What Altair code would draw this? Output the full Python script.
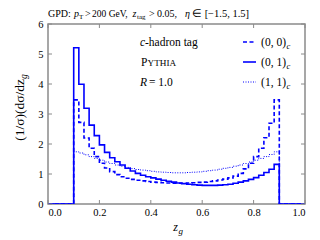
import altair as alt
import pandas as pd

# ---- data -------------------------------------------------------------
bin_start = 0.10
bin_width = 0.02
n_bins = 40

vals_00 = [3.47, 2.72, 2.20, 1.86, 1.58, 1.36, 1.20, 1.08, 0.98, 0.91,
           0.86, 0.82, 0.79, 0.77, 0.75, 0.73, 0.72, 0.71, 0.70, 0.69,
           0.69, 0.69, 0.70, 0.71, 0.72, 0.73, 0.75, 0.77, 0.80, 0.83,
           0.87, 0.93, 1.02, 1.17, 1.36, 1.58, 1.86, 2.21, 2.69, 3.47]
vals_01 = [5.21, 3.99, 3.19, 2.63, 2.28, 1.97, 1.72, 1.54, 1.41, 1.30,
           1.19, 1.10, 1.02, 0.96, 0.91, 0.87, 0.83, 0.79, 0.76, 0.73,
           0.70, 0.68, 0.66, 0.64, 0.63, 0.62, 0.62, 0.62, 0.63, 0.64,
           0.66, 0.69, 0.73, 0.77, 0.82, 0.88, 0.96, 1.05, 1.16, 1.32]
vals_11 = [1.74, 1.70, 1.64, 1.58, 1.52, 1.46, 1.40, 1.35, 1.30, 1.26,
           1.22, 1.18, 1.15, 1.13, 1.11, 1.09, 1.07, 1.06, 1.05, 1.04,
           1.04, 1.04, 1.05, 1.06, 1.07, 1.09, 1.11, 1.13, 1.16, 1.19,
           1.22, 1.26, 1.30, 1.35, 1.40, 1.46, 1.52, 1.58, 1.65, 1.74]

x_ticks = [0.0, 0.2, 0.4, 0.6, 0.8, 1.0]
y_ticks = [0, 1, 2, 3, 4, 5, 6]

W, H = 257, 180
FONT = "Liberation Serif"
BLUE = "#0000ff"
FRAME = "#8a8a8a"


def step_frame(vals):
    edges = [0.0] + [round(bin_start + bin_width * i, 3) for i in range(n_bins)] + [0.9, 1.0]
    yv = [0.0] + list(vals) + [0.0, 0.0]
    return pd.DataFrame({"x": edges, "y": yv})


xs = alt.Scale(domain=[0, 1], nice=False)
ys = alt.Scale(domain=[0, 6], nice=False)
XAX = alt.Axis(values=x_ticks, format=".1f", title=None, ticks=False, domain=False,
               grid=False, labelPadding=3)
YAX = alt.Axis(values=y_ticks, format="d", title=None, ticks=False, domain=False,
               grid=False, labelPadding=5)


def X():
    return alt.X("x:Q", scale=xs, axis=XAX)


def Y():
    return alt.Y("y:Q", scale=ys, axis=YAX)


def hist(vals, dash, width):
    mk = dict(interpolate="step-after", color=BLUE, strokeWidth=width, clip=True)
    if dash:
        mk["strokeDash"] = dash
    return alt.Chart(step_frame(vals)).mark_line(**mk).encode(x=X(), y=Y())


def txt(text, x, y, size=11, align="left", style="normal", angle=0, dy=0, color="black"):
    return alt.Chart(pd.DataFrame({"t": [text]})).mark_text(
        align=align, baseline="alphabetic", font=FONT, fontSize=size,
        fontStyle=style, angle=angle, dy=dy, color=color,
    ).encode(x=alt.value(x), y=alt.value(y), text="t:N")


def seg(x1, x2, y, dash, width):
    mk = dict(color=BLUE, strokeWidth=width)
    if dash:
        mk["strokeDash"] = dash
    return alt.Chart(pd.DataFrame({"a": [0]})).mark_rule(**mk).encode(
        x=alt.value(x1), x2=alt.value(x2), y=alt.value(y))


xt = pd.DataFrame({"x": x_ticks})
yt = pd.DataFrame({"y": y_ticks})
tick_layers = [
    alt.Chart(yt).mark_rule(color=FRAME, strokeWidth=1).encode(
        y=Y(), x=alt.value(0), x2=alt.value(4)),
    alt.Chart(yt).mark_rule(color=FRAME, strokeWidth=1).encode(
        y=Y(), x=alt.value(W - 4), x2=alt.value(W)),
    alt.Chart(xt).mark_rule(color=FRAME, strokeWidth=1).encode(
        x=X(), y=alt.value(0), y2=alt.value(4)),
    alt.Chart(xt).mark_rule(color=FRAME, strokeWidth=1).encode(
        x=X(), y=alt.value(H - 4), y2=alt.value(H)),
]

DASH = [4, 2.5]
DOT = [1, 1.5]

layers = [
    hist(vals_01, None, 1.6),
    hist(vals_00, DASH, 1.6),
    hist(vals_11, DOT, 1.0),
] + tick_layers + [
    # title
    txt("GPD:", 0, -7, 10),
    txt("p", 26, -7, 10, style="italic"),
    txt("T", 31, -5, 7),
    txt(">", 37, -7, 10),
    txt("200 GeV,", 44, -7, 9.5),
    txt("z", 84.5, -7, 10, style="italic"),
    txt("tag", 89, -5, 7),
    txt(">", 101, -7, 10),
    txt("0.05,", 109, -7, 10),
    txt("η", 137, -7, 10, style="italic"),
    txt("∈ [−1.5, 1.5]", 144, -7, 10.5),
    # annotations
    txt("c", 92, 22, 11.5, style="italic"),
    txt("-hadron tag", 97, 22, 11.5),
    txt("P", 99.5, 42, 11.5, align="right"),
    txt("YTHIA", 99.5, 42, 9.2),
    txt("R", 92, 62, 11.5, style="italic"),
    txt("= 1.0", 101, 62, 11.5),
    # legend
    seg(195, 208, 18, DASH, 1.6),
    seg(195, 208, 38, None, 1.6),
    seg(195, 208, 58, DOT, 1.0),
    txt("(0, 0)", 238, 22, 11.5, align="right"),
    txt("c", 238.5, 24.5, 8.5, style="italic"),
    txt("(0, 1)", 238, 42, 11.5, align="right"),
    txt("c", 238.5, 44.5, 8.5, style="italic"),
    txt("(1, 1)", 238, 62, 11.5, align="right"),
    txt("c", 238.5, 64.5, 8.5, style="italic"),
    # axis titles
    txt("(1/σ)(dσ/dz", -24, 55, 13.5, align="right", angle=270),
    txt("g", -24, 55, 9.5, style="italic", angle=270, dy=2.5),
    txt("z", 130, 207, 12, align="right", style="italic"),
    txt("g", 130.5, 209.5, 9, style="italic"),
]

chart = alt.layer(*layers).properties(
    width=W, height=H,
    padding={"left": 40, "top": 16, "right": 7, "bottom": 32},
    autosize=alt.AutoSizeParams(type="none"),
).configure_view(
    stroke=FRAME, strokeWidth=1.5,
).configure_axis(
    labelFont=FONT, labelFontSize=10.5, labelColor="black",
)

chart.save("out.html", embed_options={"renderer": "svg", "actions": False})
